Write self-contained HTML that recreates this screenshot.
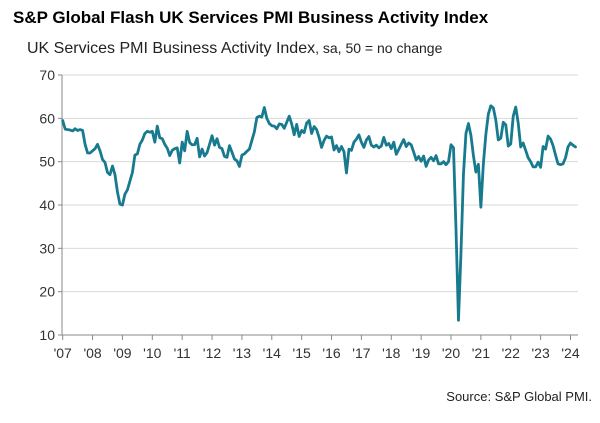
<!DOCTYPE html>
<html><head><meta charset="utf-8"><style>
body{margin:0;background:#fff;width:600px;height:418px;overflow:hidden;font-family:"Liberation Sans",sans-serif}
</style></head><body>
<svg id="chart" width="600" height="418" xmlns="http://www.w3.org/2000/svg">
<text x="13" y="23" font-size="17" font-weight="bold" fill="#000">S&amp;P Global Flash UK Services PMI Business Activity Index</text>
<text x="27" y="53" font-size="16" fill="#222">UK Services PMI Business Activity Index<tspan font-size="14">, sa, 50 = no change</tspan></text>
<text x="592" y="401" font-size="13" fill="#222" text-anchor="end">Source: S&amp;P Global PMI.</text>
<g id="grid"></g><g id="axes"></g><g id="series"></g>
</svg>
<script>
const yTicks=[10,20,30,40,50,60,70];
const xYears=["'07","'08","'09","'10","'11","'12","'13","'14","'15","'16","'17","'18","'19","'20","'21","'22","'23","'24"];
const pmiValues=[
59.5,57.5,57.4,57.3,57.1,57.6,57.2,57.4,57.2,54.0,52.0,52.0,
52.5,53.0,54.0,52.5,50.5,49.8,47.5,47.0,49.0,47.0,43.0,40.2,
40.0,42.5,43.5,45.5,47.5,51.5,51.8,54.0,55.0,56.5,57.0,56.8,
57.0,54.5,58.2,55.5,55.3,54.0,53.1,51.4,52.6,53.0,53.2,49.7,
54.5,52.5,57.0,54.4,53.9,53.9,55.4,51.1,52.9,51.3,52.1,54.0,
56.0,53.8,55.3,53.3,53.0,51.2,51.0,53.7,52.2,50.6,50.2,48.9,
51.5,51.8,52.4,52.9,54.9,56.9,60.2,60.5,60.3,62.5,60.0,58.8,
58.3,58.2,57.6,58.7,58.6,57.7,59.1,60.5,58.7,56.2,58.6,55.8,
57.2,56.7,58.9,59.5,56.5,58.1,57.4,55.6,53.3,54.9,55.9,55.5,
55.7,52.7,53.7,52.3,53.5,52.3,47.4,52.9,52.6,54.5,55.2,56.2,
54.5,53.3,55.0,55.8,53.8,53.4,53.8,53.2,53.6,55.6,53.8,54.2,
53.0,54.5,51.7,52.8,54.0,55.1,53.5,54.3,53.9,52.2,50.4,51.2,
50.1,51.3,48.9,50.4,51.0,50.2,51.4,49.5,49.5,50.0,49.3,50.0,
53.9,53.2,34.5,13.4,29.0,47.1,56.5,58.8,56.1,51.4,47.6,49.4,
39.5,49.5,56.3,61.0,62.9,62.4,59.6,55.0,55.4,59.1,58.5,53.6,
54.1,60.5,62.6,58.9,53.4,54.3,52.6,50.9,50.0,48.8,48.8,49.9,
48.7,53.5,52.9,55.9,55.2,53.7,51.5,49.5,49.3,49.5,50.9,53.4,
54.3,53.8,53.4];
const NS="http://www.w3.org/2000/svg";
const x0=62.7, yearW=29.87, left=62, right=578;
function xScale(i){return x0+i*yearW/12;}
function yScale(v){return 335-(v-10)*(260/60);}
function mk(tag,attrs,parent){const e=document.createElementNS(NS,tag);for(const k in attrs)e.setAttribute(k,attrs[k]);document.getElementById(parent).appendChild(e);return e;}
yTicks.forEach(t=>{
  const y=yScale(t);
  if(t>10){const g=mk('line',{x1:left,x2:right,y1:y,y2:y,stroke:'#d9d9d9','stroke-width':1},'grid');
  
  }
  const tk=mk('line',{x1:left-4,x2:left,y1:y,y2:y,stroke:'#888'},'axes');
  
  
  const l=mk('text',{x:left-7,y:y+5,'font-size':14,fill:'#333','text-anchor':'end'},'axes');
  l.textContent=t;
  
  
});
const ya=mk('line',{x1:left,x2:left,y1:yScale(70),y2:yScale(10),stroke:'#888'},'axes');


const xa=mk('line',{x1:left,x2:right,y1:yScale(10),y2:yScale(10),stroke:'#888'},'axes');


xYears.forEach((lab,i)=>{
  const x=xScale(i*12);
  const tk=mk('line',{x1:x,x2:x,y1:335,y2:340,stroke:'#888'},'axes');
  
  
  const t=mk('text',{x:x,y:358,'font-size':14,fill:'#333','text-anchor':'middle'},'axes');
  t.textContent=lab;
  
  
});
const d=pmiValues.map((v,i)=>(i?'L':'M')+xScale(i).toFixed(2)+','+yScale(v).toFixed(2)).join(' ');
const p=mk('path',{d:d,fill:'none',stroke:'#177a8e','stroke-width':2.8,'stroke-linejoin':'round','stroke-linecap':'round'},'series');


</script>
</body></html>
